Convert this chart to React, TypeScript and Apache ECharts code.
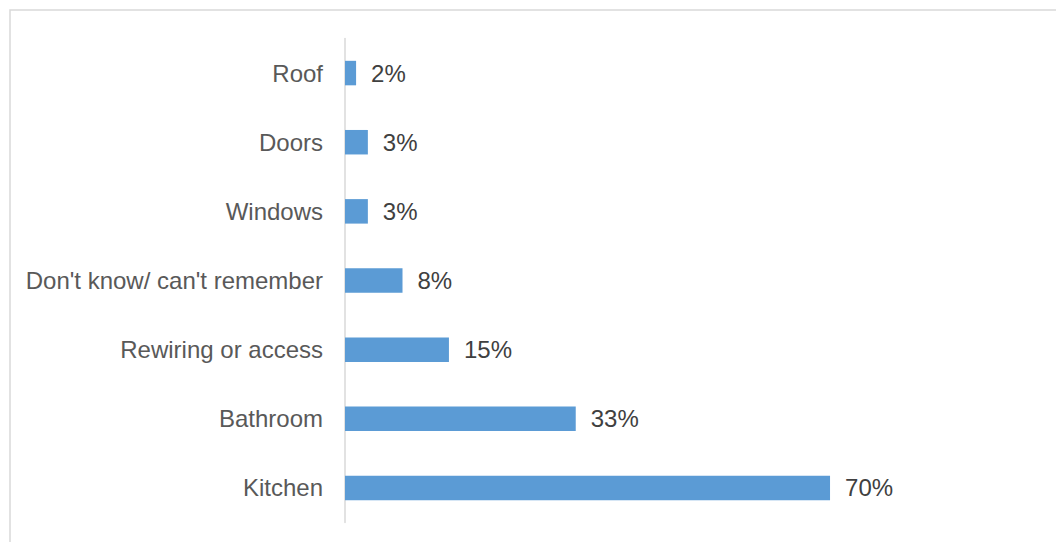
import React, { useEffect, useRef } from "react";
import * as echarts from "echarts";

const categories = [
  "Roof",
  "Doors",
  "Windows",
  "Don't know/ can't remember",
  "Rewiring or access",
  "Bathroom",
  "Kitchen",
];
const values = [1.6, 3.3, 3.3, 8.3, 15.0, 33.3, 70.0];
const valueLabels = ["2%", "3%", "3%", "8%", "15%", "33%", "70%"];

export default function App() {
  const ref = useRef<HTMLDivElement>(null);
  useEffect(() => {
    if (!ref.current) return;
    const chart = echarts.init(ref.current, null, { renderer: "svg" });
    chart.setOption({
      animation: false,
      backgroundColor: "#ffffff",
      textStyle: { fontFamily: "Liberation Sans, Arial, sans-serif" },
      graphic: [
        {
          type: "rect",
          shape: { x: 10, y: 10, width: 1200, height: 700 },
          style: { fill: "none", stroke: "#d9d9d9", lineWidth: 1.5 },
          silent: true,
        },
      ],
      grid: { left: 345, top: 38.5, bottom: 19.5, right: 18.1, containLabel: false },
      xAxis: {
        type: "value",
        min: 0,
        max: 100,
        show: false,
      },
      yAxis: {
        type: "category",
        inverse: true,
        data: categories,
        axisLine: { show: true, lineStyle: { color: "#d9d9d9", width: 1.5 } },
        axisTick: { show: false },
        axisLabel: {
          color: "#595959",
          fontSize: 24,
          margin: 22,
          fontFamily: "Liberation Sans, Arial, sans-serif",
        },
      },
      series: [
        {
          type: "bar",
          data: values,
          barWidth: 24.5,
          itemStyle: { color: "#5B9BD5" },
          label: {
            show: true,
            position: "right",
            distance: 15,
            color: "#404040",
            fontSize: 24,
            fontFamily: "Liberation Sans, Arial, sans-serif",
            formatter: (p: any) => valueLabels[p.dataIndex],
          },
        },
      ],
    });
    return () => chart.dispose();
  }, []);
  return (
    <div
      ref={ref}
      style={{ position: "absolute", left: 0, top: 0, width: 1056, height: 542 }}
    />
  );
}
